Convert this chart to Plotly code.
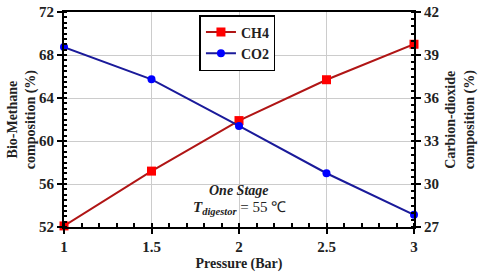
import plotly.graph_objects as go

pressure = [1, 1.5, 2, 2.5, 3]
ch4 = [52.1, 57.2, 61.9, 65.7, 69.0]
co2 = [39.55, 37.3, 34.05, 30.75, 27.85]

FONT = "Liberation Serif"
TXT = "#222222"

fig = go.Figure()
fig.add_trace(go.Scatter(
    x=pressure, y=ch4, name="CH4", mode="lines+markers",
    line=dict(color="#B01515", width=2),
    marker=dict(symbol="square", size=9, color="#FF0000"),
    cliponaxis=False))
fig.add_trace(go.Scatter(
    x=pressure, y=co2, name="CO2", mode="lines+markers", yaxis="y2",
    line=dict(color="#1A1A9A", width=2),
    marker=dict(symbol="circle", size=8, color="#0000FF"),
    cliponaxis=False))

tickfont = dict(family=FONT, size=15, color=TXT, weight="bold")
titlefont = dict(family=FONT, size=14, color=TXT, weight="bold")

fig.update_layout(
    width=480, height=277,
    margin=dict(l=64, r=66, t=12, b=50, autoexpand=False),
    plot_bgcolor="white", paper_bgcolor="white",
    font=dict(family=FONT),
    showlegend=True,
    legend=dict(x=0.387, y=0.986, xanchor="left", yanchor="top",
                bordercolor="black", borderwidth=1.5, bgcolor="white",
                font=dict(family=FONT, size=14, color=TXT, weight="bold"),
                tracegroupgap=0, itemwidth=30),
    xaxis=dict(
        range=[1, 3], tickvals=[1, 1.5, 2, 2.5, 3], ticktext=["1", "1.5", "2", "2.5", "3"],
        showline=True, linecolor="black", linewidth=2, mirror=True,
        ticks="outside", ticklen=5, tickwidth=1.5, tickcolor="black",
        minor=dict(dtick=0.1, ticks="inside", ticklen=4, tickcolor="black", showgrid=False),
        showgrid=True, gridcolor="#CCCCCC", gridwidth=1,
        tickfont=tickfont, zeroline=False, automargin=False,
        title=dict(text="Pressure (Bar)", font=titlefont, standoff=4),
    ),
    yaxis=dict(
        range=[52, 72], tickvals=[52, 56, 60, 64, 68, 72],
        showline=True, linecolor="black", linewidth=2,
        ticks="outside", ticklen=5, tickwidth=1.5, tickcolor="black",
        minor=dict(dtick=0.5, ticks="inside", ticklen=3, tickcolor="black", showgrid=False),
        showgrid=True, gridcolor="#CCCCCC", gridwidth=1,
        tickfont=tickfont, zeroline=False, automargin=False,
    ),
    yaxis2=dict(
        range=[27, 42], tickvals=[27, 30, 33, 36, 39, 42], overlaying="y", side="right",
        showline=True, linecolor="black", linewidth=2,
        ticks="outside", ticklen=5, tickwidth=1.5, tickcolor="black",
        minor=dict(dtick=0.5, ticks="inside", ticklen=3, tickcolor="black", showgrid=False),
        showgrid=False, tickfont=tickfont, zeroline=False, automargin=False,
    ),
)

# axis titles as rotated annotations for exact placement
fig.add_annotation(x=-0.121, y=0.5, xref="paper", yref="paper", showarrow=False,
                   xanchor="center", yanchor="middle", textangle=-90,
                   text="<b>Bio-Methane<br>composition (%)</b>",
                   font=dict(family=FONT, size=14, color=TXT))
fig.add_annotation(x=1.131, y=0.5, xref="paper", yref="paper", showarrow=False,
                   xanchor="center", yanchor="middle", textangle=-90,
                   text="<b>Carbion-dioxide<br>composition (%)</b>",
                   font=dict(family=FONT, size=14, color=TXT))

fig.add_annotation(x=2, y=0.169, xref="x", yref="paper", showarrow=False,
                   xanchor="center", yanchor="middle",
                   text="<b><i>One Stage</i></b>",
                   font=dict(family=FONT, size=14, color=TXT))
fig.add_annotation(x=2, y=0.088, xref="x", yref="paper", showarrow=False,
                   xanchor="center", yanchor="middle",
                   text="<b><i>T</i></b><sub><b><i>digestor</i></b></sub> = 55 ℃",
                   font=dict(family=FONT, size=15, color=TXT))

fig.write_html("out.html", config={"displayModeBar": False},
               post_script="document.body.style.margin='0px';")
